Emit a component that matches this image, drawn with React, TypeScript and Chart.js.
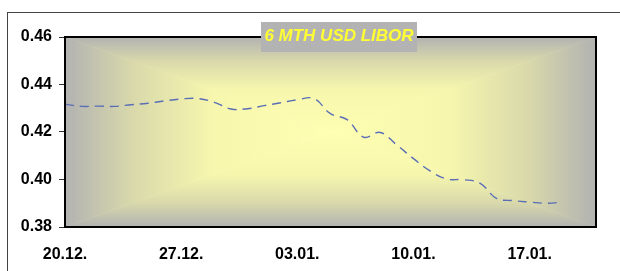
import React, { useEffect, useRef } from "react";
import { Chart, registerables } from "chart.js";

Chart.register(...registerables);

const TITLE = "6 MTH USD LIBOR";
const DAYS = [0,1,2,3,4,5,6,7,8,9,10,11,12,13,14,15,16,17,18,19,20,21,22,23,24,25,26,27,28,29,30];
const RATES = [0.4317,0.4308,0.4309,0.4308,0.4315,0.4321,0.4331,0.4339,0.4341,0.4325,0.4297,0.4298,0.4311,0.4323,0.4336,0.4341,0.4277,0.4252,0.4178,0.4198,0.4145,0.4088,0.4036,0.4002,0.3999,0.3985,0.3921,0.3911,0.3905,0.3900,0.3905];
const X_TICK_DAYS = [0, 7, 14, 21, 28];
const X_TICK_LABELS = ["20.12.", "27.12.", "03.01.", "10.01.", "17.01."];
const X_MAX_DAY = 32;
const Y_MIN = 0.38;
const Y_MAX = 0.46;
const Y_STEP = 0.02;

const FONT = '"Liberation Sans", Arial, sans-serif';

function rectGradient(ctx: CanvasRenderingContext2D, l: number, t: number, r: number, b: number) {
  const cx = (l + r) / 2;
  const cy = (t + b) / 2;
  const stops: [number, string][] = [
    [0, "#ffffb2"],
    [0.45, "#f6f6ae"],
    [0.75, "#d8d8ab"],
    [1, "#b2b2b2"],
  ];
  const parts: [number[][], number, number, number, number][] = [
    [[[l, t], [r, t], [cx, cy]], cx, cy, cx, t],
    [[[l, b], [r, b], [cx, cy]], cx, cy, cx, b],
    [[[l, t], [l, b], [cx, cy]], cx, cy, l, cy],
    [[[r, t], [r, b], [cx, cy]], cx, cy, r, cy],
  ];
  for (const [pts, x0, y0, x1, y1] of parts) {
    const g = ctx.createLinearGradient(x0, y0, x1, y1);
    for (const [o, c] of stops) g.addColorStop(o, c);
    ctx.beginPath();
    ctx.moveTo(pts[0][0], pts[0][1]);
    ctx.lineTo(pts[1][0], pts[1][1]);
    ctx.lineTo(pts[2][0], pts[2][1]);
    ctx.closePath();
    ctx.fillStyle = g;
    ctx.fill();
    ctx.strokeStyle = g;
    ctx.lineWidth = 0.6;
    ctx.stroke();
  }
}

const decor = {
  id: "decor",
  beforeDraw(chart: any) {
    const { ctx, chartArea: a } = chart;
    ctx.save();
    ctx.fillStyle = "#ffffff";
    ctx.fillRect(0, 0, chart.width, chart.height);
    ctx.strokeStyle = "#444444";
    ctx.lineWidth = 1;
    ctx.strokeRect(7.5, 12.5, 800, 400);
    ctx.beginPath();
    ctx.rect(a.left, a.top, a.right - a.left, a.bottom - a.top);
    ctx.clip();
    rectGradient(ctx, a.left, a.top, a.right, a.bottom);
    ctx.restore();
  },
  afterDraw(chart: any) {
    const { ctx, chartArea: a } = chart;
    ctx.save();
    ctx.strokeStyle = "#000000";
    ctx.lineWidth = 2;
    ctx.strokeRect(a.left, a.top, a.right - a.left, a.bottom - a.top);
    ctx.fillStyle = "#b3b3b3";
    ctx.fillRect(261, 22, 156, 30);
    ctx.fillStyle = "#ffff33";
    ctx.font = `italic bold 17px ${FONT}`;
    ctx.textAlign = "center";
    ctx.textBaseline = "middle";
    ctx.fillText(TITLE, 339, 36);
    ctx.restore();
  },
};

export default function App() {
  const ref = useRef<HTMLCanvasElement | null>(null);
  useEffect(() => {
    document.body.style.margin = "0";
    const canvas = ref.current;
    if (!canvas) return;
    const chart = new Chart(canvas, {
      type: "line",
      data: {
        datasets: [
          {
            data: DAYS.map((d, i) => ({ x: d, y: RATES[i] })),
            borderColor: "#5a6eb6",
            borderWidth: 1.4,
            borderDash: [9, 6],
            pointRadius: 0,
            tension: 0.4,
            fill: false,
          },
        ],
      },
      options: {
        responsive: false,
        animation: false,
        devicePixelRatio: 1,
        layout: { padding: { top: 37, right: 24, left: 0, bottom: 0 } },
        plugins: { legend: { display: false }, tooltip: { enabled: false }, title: { display: false } },
        scales: {
          x: {
            type: "linear",
            min: 0,
            max: X_MAX_DAY,
            afterBuildTicks: (s: any) => {
              s.ticks = X_TICK_DAYS.map((v) => ({ value: v }));
            },
            afterFit: (s: any) => {
              s.height = 44;
            },
            grid: { display: true, drawOnChartArea: false, drawTicks: false },
            border: { display: true, color: "#000", width: 2 },
            ticks: {
              padding: 18,
              maxRotation: 0,
              autoSkip: false,
              color: "#000",
              font: { family: FONT, size: 16, weight: "bold" },
              callback: (v: any) => {
                const i = X_TICK_DAYS.indexOf(Number(v));
                return i >= 0 ? X_TICK_LABELS[i] : "";
              },
            },
          },
          y: {
            min: Y_MIN,
            max: Y_MAX,
            afterFit: (s: any) => {
              s.width = 65;
            },
            grid: { display: true, drawOnChartArea: false, drawTicks: true, tickLength: 6, color: "#333" },
            border: { display: true, color: "#000", width: 2 },
            ticks: {
              stepSize: Y_STEP,
              padding: 7,
              color: "#000",
              font: { family: FONT, size: 16, weight: "bold" },
              callback: (v: any) => Number(v).toFixed(2),
            },
          },
        },
      },
      plugins: [decor],
    });
    return () => chart.destroy();
  }, []);
  return <canvas ref={ref} width={620} height={271} style={{ display: "block" }} />;
}
